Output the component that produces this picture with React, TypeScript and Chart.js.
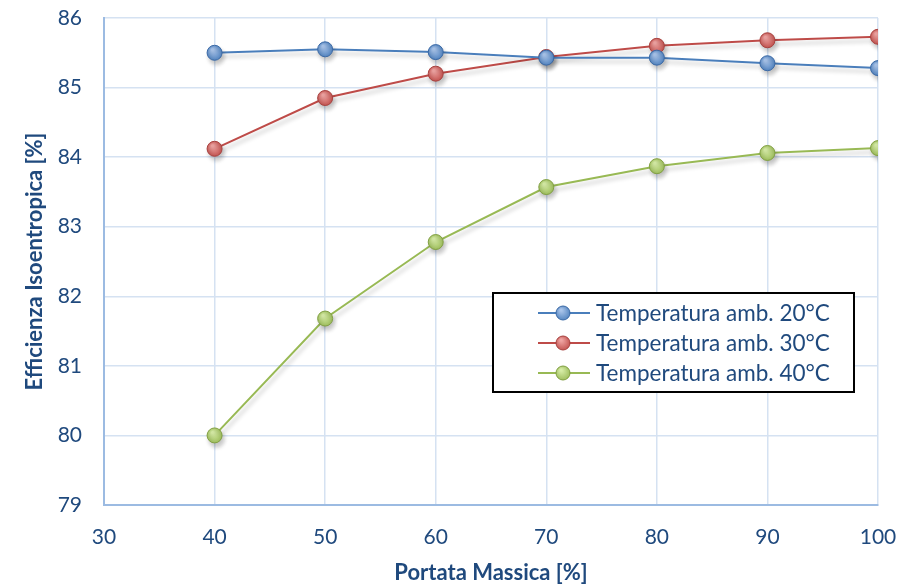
import React, { useEffect, useRef } from "react";
import { Chart, registerables } from "chart.js";

Chart.register(...registerables);

const portata = [40, 50, 60, 70, 80, 90, 100];
const temp20 = [85.5, 85.55, 85.51, 85.43, 85.43, 85.35, 85.28];
const temp30 = [84.12, 84.85, 85.2, 85.44, 85.6, 85.68, 85.73];
const temp40 = [80.0, 81.68, 82.78, 83.57, 83.87, 84.06, 84.13];
const seriesLabels = [
  "Temperatura amb. 20°C",
  "Temperatura amb. 30°C",
  "Temperatura amb. 40°C",
];
const xTitle = "Portata Massica [%]";
const yTitle = "Efficienza Isoentropica [%]";

const FONT = "Lato, 'Open Sans', sans-serif";
const TEXT = "#1F497D";

const styles = [
  { line: "#4A7EBB", base: "#4F81BD", light: "#A9C4EA", border: "#3C6AA6" },
  { line: "#BE4B48", base: "#C0504D", light: "#EFA4A2", border: "#A8423F" },
  { line: "#98B954", base: "#9BBB59", light: "#D6ECA6", border: "#82A043" },
];

function gradFill(idx: number) {
  return (ctx: any) => {
    const chart = ctx.chart;
    const s = styles[idx];
    if (ctx.type !== "data" || !ctx.parsed || !chart.scales || !chart.scales.x || !chart.scales.y) return s.base;
    const px = chart.scales.x.getPixelForValue(ctx.parsed.x);
    const py = chart.scales.y.getPixelForValue(ctx.parsed.y);
    if (!isFinite(px) || !isFinite(py)) return s.base;
    const g = chart.ctx.createRadialGradient(px - 2, py - 3, 1, px, py, 8);
    g.addColorStop(0, s.light);
    g.addColorStop(1, s.base);
    return g;
  };
}

const shadowPlugin = {
  id: "shadow",
  beforeDatasetDraw(chart: any) {
    const c = chart.ctx;
    c.save();
    c.shadowColor = "rgba(0,0,0,0.22)";
    c.shadowBlur = 4;
    c.shadowOffsetX = 2;
    c.shadowOffsetY = 4;
  },
  afterDatasetDraw(chart: any) {
    chart.ctx.restore();
  },
};

const legendPlugin = {
  id: "boxLegend",
  afterDraw(chart: any) {
    const c = chart.ctx;
    const a = chart.chartArea;
    const w = 361;
    const h = 99;
    const x0 = a.right - 24 - w;
    const y0 = a.top + 275;
    c.save();
    c.fillStyle = "#ffffff";
    c.fillRect(x0, y0, w, h);
    c.strokeStyle = "#000000";
    c.lineWidth = 2;
    c.strokeRect(x0, y0, w, h);
    chart.data.datasets.forEach((ds: any, i: number) => {
      const s = styles[i];
      const cy = y0 + 20 + i * 30;
      c.strokeStyle = s.line;
      c.lineWidth = 2;
      c.beginPath();
      c.moveTo(x0 + 45, cy);
      c.lineTo(x0 + 97, cy);
      c.stroke();
      const cx = x0 + 70;
      const g = c.createRadialGradient(cx - 2, cy - 3, 1, cx, cy, 8);
      g.addColorStop(0, s.light);
      g.addColorStop(1, s.base);
      c.fillStyle = g;
      c.beginPath();
      c.arc(cx, cy, 7, 0, Math.PI * 2);
      c.fill();
      c.strokeStyle = s.border;
      c.lineWidth = 1;
      c.stroke();
      c.fillStyle = TEXT;
      c.font = `22.5px ${FONT}`;
      c.textAlign = "left";
      c.textBaseline = "middle";
      c.fillText(ds.label, x0 + 103, cy + 1);
    });
    c.restore();
  },
};

export default function App() {
  const ref = useRef<HTMLCanvasElement | null>(null);

  useEffect(() => {
    if (!ref.current) return;
    const data = [temp20, temp30, temp40];
    const chart = new Chart(ref.current, {
      type: "line",
      data: {
        datasets: data.map((vals, i) => ({
          label: seriesLabels[i],
          data: portata.map((x, j) => ({ x, y: vals[j] })),
          borderColor: styles[i].line,
          borderWidth: 2,
          backgroundColor: styles[i].base,
          pointBackgroundColor: gradFill(i),
          pointBorderColor: styles[i].border,
          pointBorderWidth: 1,
          pointRadius: 7.5,
          pointHoverRadius: 7.5,
          tension: 0,
          fill: false,
        })),
      },
      options: {
        responsive: false,
        animation: false,
        layout: { padding: { left: 0, right: 38, top: 18, bottom: 0 } },
        plugins: {
          legend: { display: false },
          tooltip: { enabled: false },
        },
        scales: {
          x: {
            type: "linear",
            min: 30,
            max: 100,
            ticks: {
              stepSize: 10,
              color: TEXT,
              font: { family: FONT, size: 21 },
              padding: 20,
            },
            grid: { color: "#D5E2F2", lineWidth: 1.5, drawTicks: false },
            border: { color: "#9CBBE2", width: 2 },
            title: {
              display: true,
              text: xTitle,
              color: TEXT,
              font: { family: FONT, size: 22, weight: "bold" },
              padding: { top: 0, bottom: 0 },
            },
            afterFit(scale: any) {
              scale.height = 81;
              scale.paddingLeft = 0;
              scale.paddingRight = 0;
            },
          },
          y: {
            min: 79,
            max: 86,
            ticks: {
              stepSize: 1,
              color: TEXT,
              font: { family: FONT, size: 21 },
              padding: 22,
            },
            grid: { color: "#D5E2F2", lineWidth: 1.5, drawTicks: false },
            border: { color: "#9CBBE2", width: 2 },
            title: {
              display: true,
              text: yTitle,
              color: TEXT,
              font: { family: FONT, size: 22, weight: "bold" },
              padding: { top: 22, bottom: 0 },
            },
            afterFit(scale: any) {
              scale.width = 104;
              scale.paddingTop = 0;
              scale.paddingBottom = 0;
            },
          },
        },
      },
      plugins: [shadowPlugin, legendPlugin],
    });
    return () => chart.destroy();
  }, []);

  return (
    <div style={{ position: "fixed", left: 0, top: 0, width: 916, height: 586, background: "#fff" }}>
      <canvas ref={ref} width={916} height={586} style={{ display: "block" }} />
    </div>
  );
}
